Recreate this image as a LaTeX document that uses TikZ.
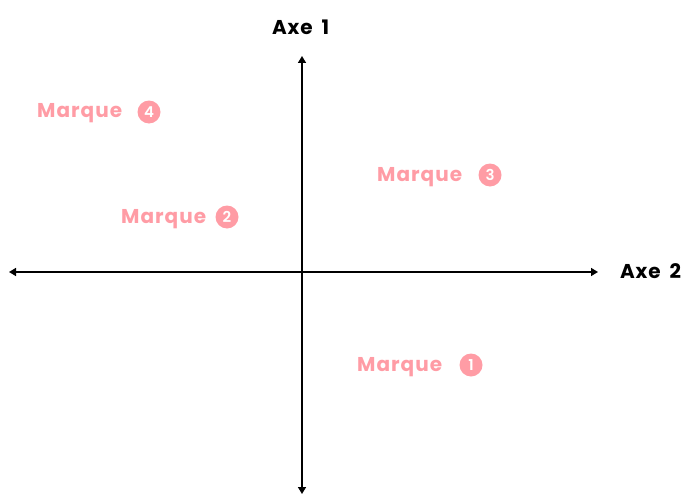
\documentclass[tikz,border=0pt]{standalone}
\usepackage{fontspec}
\setmainfont{Poppins}[BoldFont={* SemiBold}]
\newfontfamily\mqfont{Poppins}[UprightFont={* Bold},LetterSpace=5]
\newfontfamily\axfont{Poppins}[UprightFont={* Bold},LetterSpace=4,WordSpace=1.8]
\newfontfamily\nmfont{Poppins}[UprightFont={* SemiBold}]
\usetikzlibrary{arrows.meta}
\definecolor{pinkm}{HTML}{FF9CA5}
\tikzset{
  axis/.style={line width=1.5pt,{Triangle[length=7pt,width=8pt]}-{Triangle[length=7pt,width=8pt]}},
  axlabel/.style={font=\axfont\fontsize{20}{22}\selectfont,text=black,inner sep=0pt},
  marque/.style={font=\mqfont\fontsize{20}{22}\selectfont,text=pinkm,inner sep=0pt,anchor=base west},
  num/.style={circle,fill=pinkm,text=white,minimum size=23pt,inner sep=0pt,font=\nmfont\fontsize{15}{16}\selectfont}
}
\begin{document}
\begin{tikzpicture}[x=1pt,y=-1pt]
\useasboundingbox (0,0) rectangle (685,495);
\coordinate (top) at (302,56);
\coordinate (bot) at (302,494);
\coordinate (left) at (9,272);
\coordinate (right) at (598,272);
\draw[axis] (bot) -- (top);
\draw[axis] (left) -- (right);
\node[axlabel,anchor=base west] (ax1) at (272,35) {Axe 1};
\node[axlabel,anchor=base west] (ax2) at (620,278) {Axe 2};
\node[marque] (m4) at (37,117) {Marque};
\node[num] (c4) at (149,112) {4};
\node[marque] (m3) at (377,181) {Marque};
\node[num] (c3) at (490,175) {3};
\node[marque] (m2) at (121,223) {Marque};
\node[num] (c2) at (227,217) {2};
\node[marque] (m1) at (357,371) {Marque};
\node[num] (c1) at (471,365) {1};
\end{tikzpicture}
\end{document}
